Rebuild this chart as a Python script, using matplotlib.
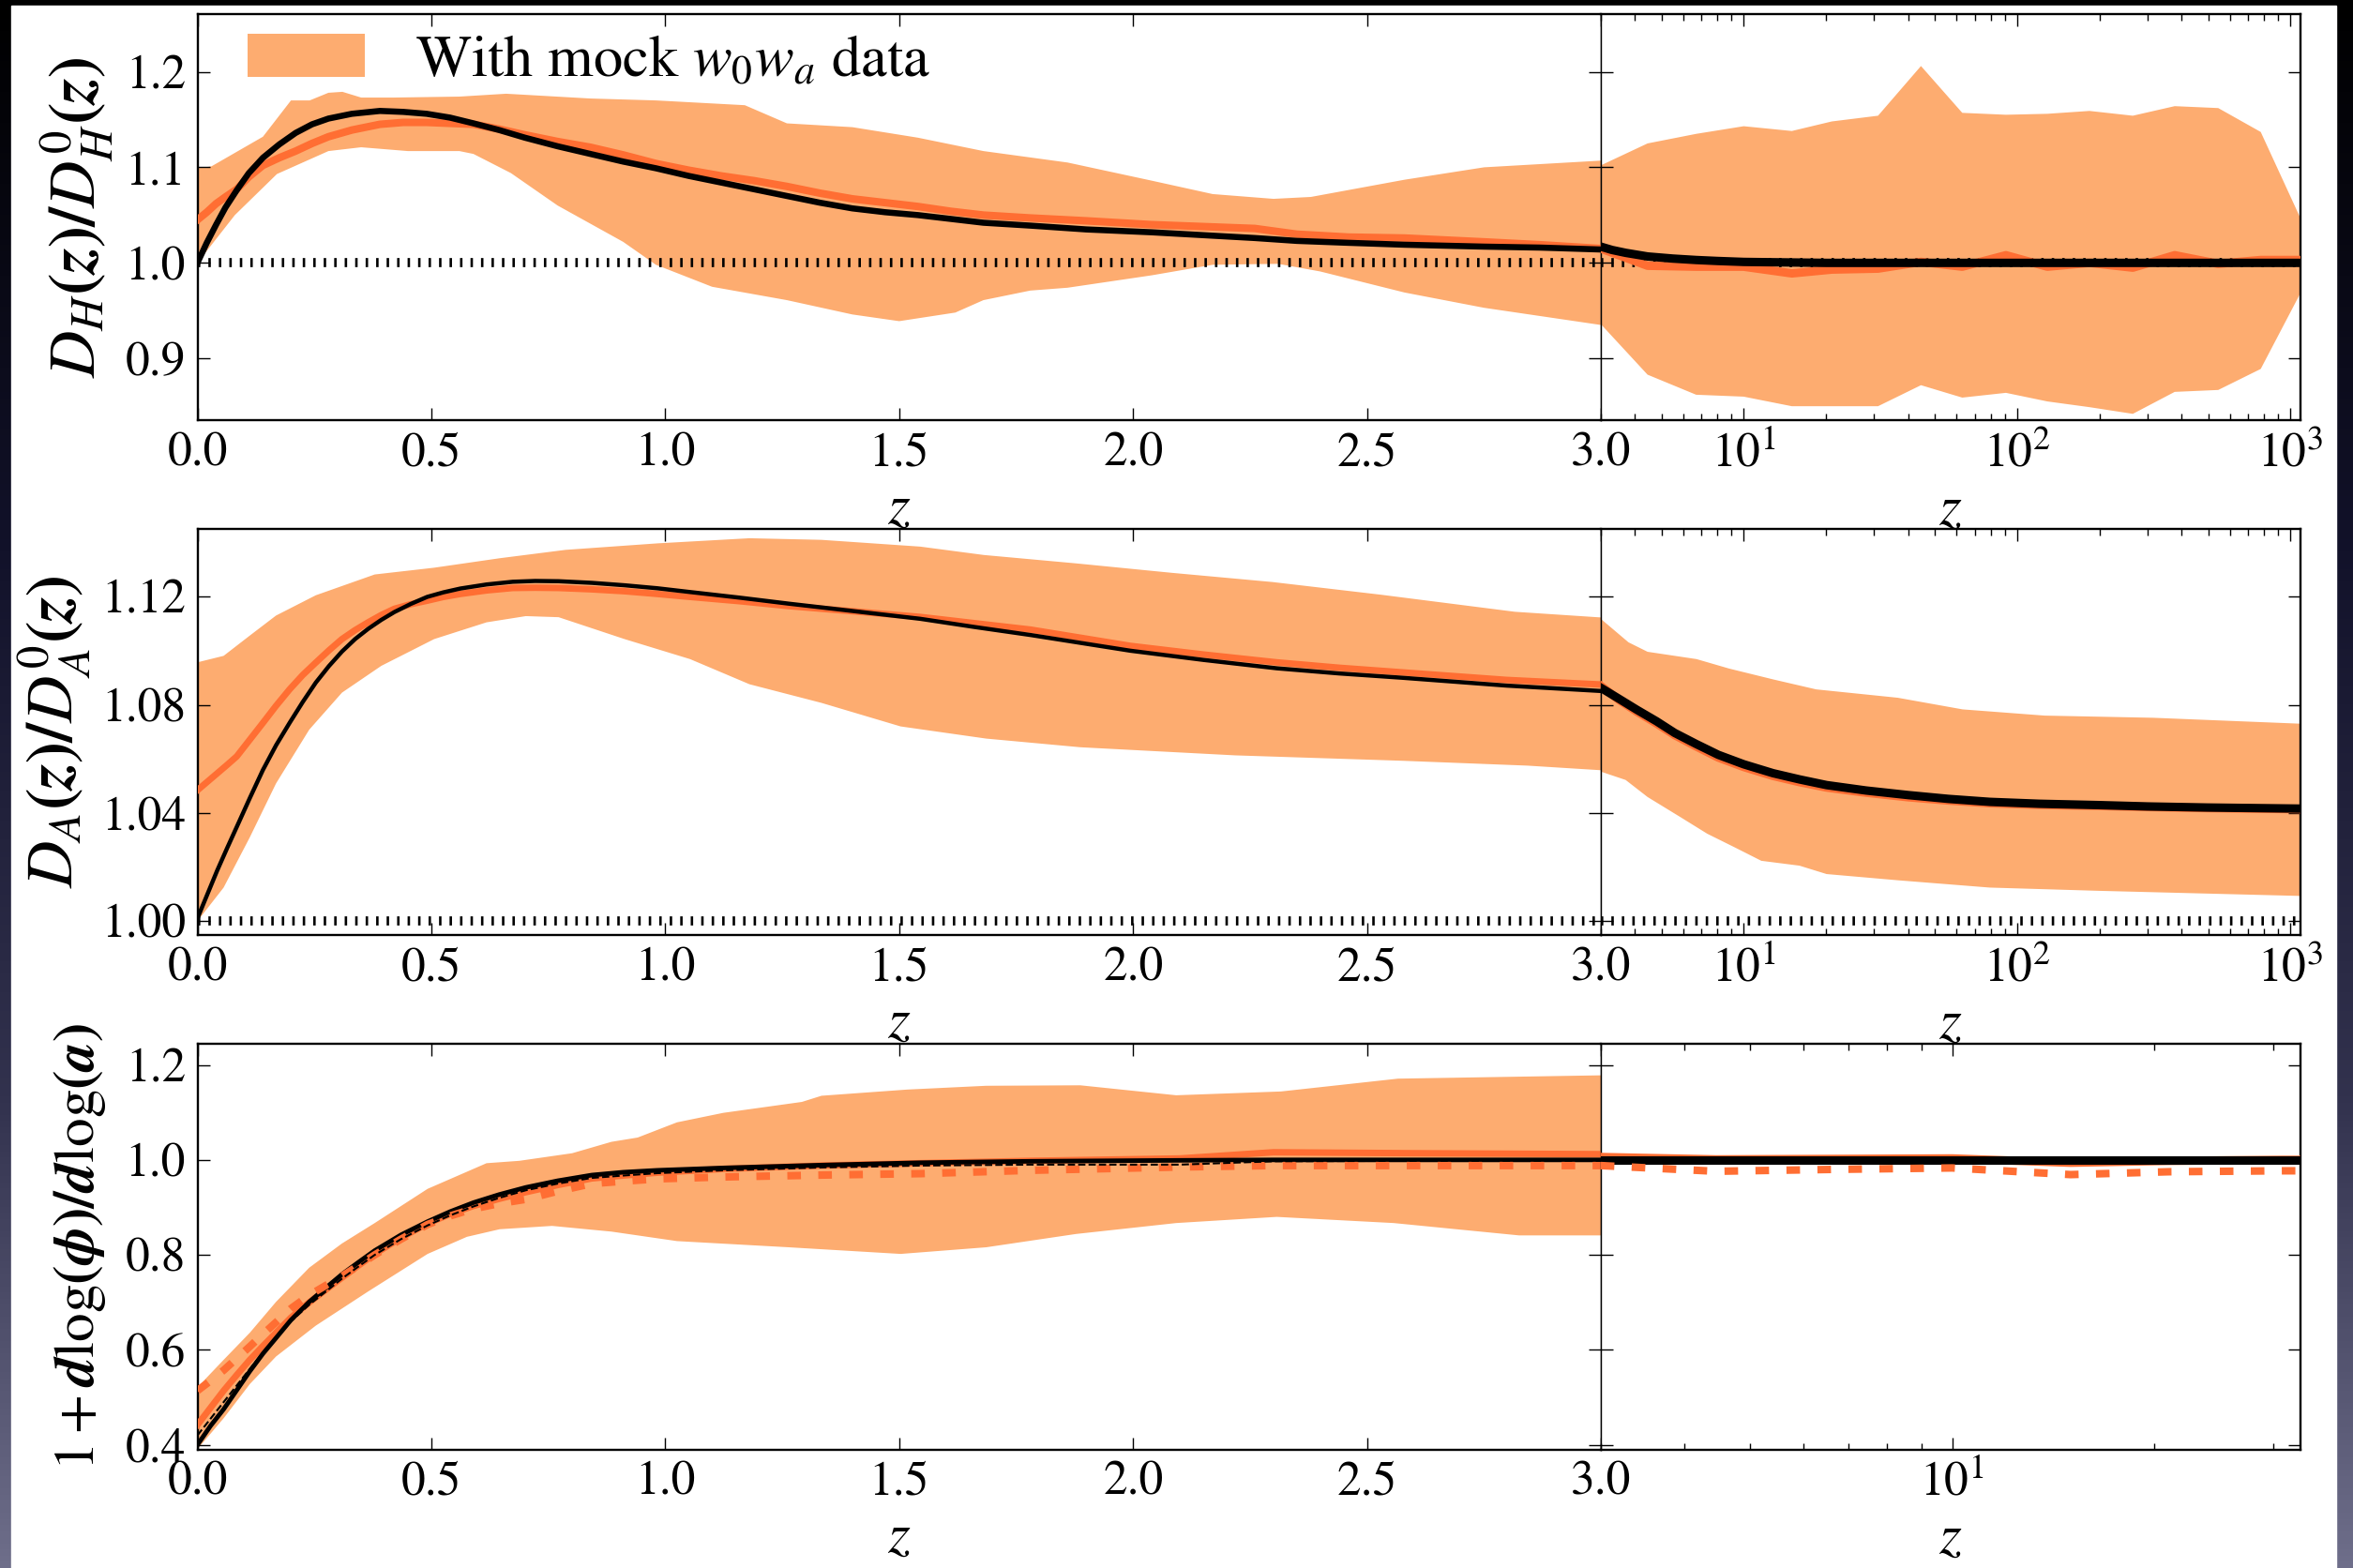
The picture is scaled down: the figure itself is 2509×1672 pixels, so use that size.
import numpy as np
import matplotlib.pyplot as plt
from matplotlib.colors import LinearSegmentedColormap
from matplotlib.patches import Rectangle
from matplotlib.ticker import NullFormatter, FormatStrFormatter

plt.rcParams['font.family'] = 'STIXGeneral'
plt.rcParams['mathtext.fontset'] = 'stix'

band_color = '#fdac70'
orange = '#ff6e33'
ref_level = 1.0

# ---------------- panel 1 : D_H(z)/D_H^0(z) ----------------
H_band_z_up = [0.0, 0.03, 0.14, 0.2, 0.24, 0.28, 0.31, 0.35, 0.42, 0.56, 0.66, 0.84, 0.98, 1.17, 1.26,
               1.4, 1.54, 1.68, 1.86, 2.04, 2.17, 2.3, 2.38, 2.58, 2.75, 3.0]
H_band_up = [1.099, 1.101, 1.132, 1.170, 1.170, 1.178, 1.179, 1.173, 1.173, 1.174, 1.177, 1.172, 1.170, 1.165, 1.146,
             1.142, 1.131, 1.117, 1.105, 1.086, 1.072, 1.067, 1.069, 1.087, 1.100, 1.107]
H_band_z_lo = [0.0, 0.08, 0.17, 0.28, 0.35, 0.45, 0.56, 0.59, 0.67, 0.77, 0.91, 0.98, 1.1, 1.26, 1.4,
               1.5, 1.62, 1.68, 1.78, 1.86, 2.04, 2.17, 2.31, 2.4, 2.58, 2.75, 3.0]
H_band_lo = [1.0, 1.05, 1.093, 1.117, 1.121, 1.117, 1.117, 1.114, 1.094, 1.060, 1.022, 0.998, 0.975, 0.961, 0.946,
             0.939, 0.948, 0.961, 0.971, 0.974, 0.987, 0.998, 0.999, 0.991, 0.969, 0.953, 0.935]
H_z = [0.0, 0.02, 0.04, 0.06, 0.084, 0.11, 0.14, 0.175, 0.21, 0.245, 0.28, 0.33, 0.39, 0.44, 0.49, 0.54, 0.59,
       0.645, 0.70, 0.77, 0.84, 0.91, 0.98, 1.05, 1.12, 1.19, 1.26, 1.33, 1.40, 1.47, 1.54, 1.61, 1.68, 1.78,
       1.9, 2.04, 2.15, 2.26, 2.35, 2.46, 2.58, 2.75, 2.87, 3.0]
H_black = [1.0, 1.021, 1.04, 1.058, 1.076, 1.094, 1.11, 1.124, 1.136, 1.145, 1.151, 1.156, 1.159, 1.158, 1.156,
           1.152, 1.146, 1.139, 1.131, 1.122, 1.114, 1.106, 1.099, 1.091, 1.084, 1.077, 1.070, 1.063, 1.057,
           1.053, 1.050, 1.046, 1.042, 1.039, 1.035, 1.032, 1.029, 1.026, 1.023, 1.021, 1.019, 1.017, 1.016, 1.014]
H_orange = [1.045, 1.053, 1.062, 1.069, 1.077, 1.090, 1.102, 1.110, 1.117, 1.125, 1.132, 1.139, 1.145, 1.147,
            1.147, 1.146, 1.145, 1.140, 1.134, 1.127, 1.121, 1.113, 1.104, 1.097, 1.091, 1.086, 1.080, 1.073,
            1.067, 1.063, 1.059, 1.054, 1.050, 1.047, 1.044, 1.040, 1.038, 1.036, 1.030, 1.027, 1.026, 1.022,
            1.019, 1.015]

# high-z part (log axis)
zr = [3, 4.45, 6.7, 10, 15, 21, 31, 44.5, 63, 91, 129, 184, 265, 377, 544, 778, 1090]
H_band_up_r = [1.102, 1.125, 1.135, 1.143, 1.138, 1.148, 1.154, 1.206, 1.157, 1.155, 1.156, 1.159, 1.154, 1.164,
               1.162, 1.137, 1.046]
H_band_lo_r = [0.936, 0.883, 0.862, 0.860, 0.850, 0.850, 0.850, 0.872, 0.859, 0.864, 0.855, 0.849, 0.842, 0.865,
               0.867, 0.889, 0.969]
H_orange_r = [1.015, 0.997, 0.996, 0.996, 0.989, 0.993, 0.994, 1.001, 0.996, 1.008, 0.996, 1.0, 0.995, 1.008,
              0.999, 1.003, 1.003]
H_z_black_r = [3, 3.3, 3.7, 4.45, 5.5, 6.7, 8, 10, 20, 100, 1090]
H_black_r = [1.017, 1.0135, 1.0105, 1.0067, 1.0045, 1.003, 1.002, 1.001, 1.0, 1.0, 1.0]

# ---------------- panel 2 : D_A(z)/D_A^0(z) ----------------
A_band_z_up = [0.0, 0.056, 0.112, 0.168, 0.253, 0.379, 0.506, 0.646, 0.787, 0.983,
               1.18, 1.334, 1.545, 1.681, 1.878, 2.083, 2.298, 2.53, 2.816, 3.0]
A_band_up = [1.0957, 1.0981, 1.1056, 1.113, 1.1205, 1.1282, 1.1307, 1.1342, 1.1373, 1.1397,
             1.1416, 1.141, 1.1385, 1.1354, 1.1323, 1.1288, 1.1254, 1.1207, 1.1144, 1.1123]
A_band_z_lo = [0.0, 0.056, 0.112, 0.168, 0.239, 0.309, 0.393, 0.506, 0.618, 0.702, 0.772,
               0.913, 1.053, 1.18, 1.334, 1.503, 1.686, 1.887, 2.218, 2.575, 2.843, 3.0]
A_band_lo = [1.0, 1.0124, 1.031, 1.0509, 1.0708, 1.0845, 1.0944, 1.1043, 1.1105, 1.1128, 1.1124,
             1.1043, 1.0969, 1.0876, 1.0807, 1.072, 1.0675, 1.0643, 1.0613, 1.0593, 1.0575, 1.0558]
A_z = [0.0, 0.021, 0.042, 0.063, 0.084, 0.112, 0.14, 0.168, 0.197, 0.225, 0.253, 0.281, 0.309, 0.337, 0.365,
       0.393, 0.421, 0.456, 0.491, 0.526, 0.562, 0.618, 0.674, 0.722, 0.772, 0.843, 0.913, 0.983, 1.053,
       1.16, 1.264, 1.40, 1.545, 1.66, 1.781, 1.994, 2.15, 2.307, 2.44, 2.575, 2.798, 3.0]
A_black = [1.001, 1.0098, 1.0186, 1.0268, 1.0348, 1.0455, 1.0559, 1.0650, 1.0733, 1.0810, 1.0882, 1.0943,
           1.0997, 1.1043, 1.1081, 1.1114, 1.1143, 1.1173, 1.1199, 1.1216, 1.123, 1.1245, 1.1255, 1.1258,
           1.1257, 1.1251, 1.1242, 1.1231, 1.1217, 1.1196, 1.1174, 1.1147, 1.1118, 1.1088, 1.1058, 1.1000,
           1.0966, 1.0935, 1.0916, 1.0900, 1.0871, 1.0851]
A_orange = [1.0484, 1.0515, 1.0546, 1.0577, 1.0609, 1.0671, 1.0733, 1.0796, 1.0857, 1.0910, 1.0956, 1.1001,
            1.1043, 1.1076, 1.1105, 1.1132, 1.1155, 1.1172, 1.1185, 1.1199, 1.121, 1.1223, 1.1232, 1.1233,
            1.1232, 1.1227, 1.122, 1.1210, 1.1199, 1.1183, 1.1165, 1.1146, 1.1125, 1.1102, 1.1078, 1.1018,
            1.0986, 1.0957, 1.0937, 1.0920, 1.0892, 1.0875]

A_band_z_up_r = [3, 3.79, 4.45, 6.72, 8.84, 12.8, 18.4, 36.6, 63.2, 126, 314, 1090]
A_band_up_r = [1.1118, 1.1031, 1.0996, 1.0969, 1.0934, 1.0894, 1.0857, 1.0826, 1.0783, 1.076, 1.0752, 1.073]
A_band_z_lo_r = [3, 3.7, 4.45, 5.86, 7.36, 9.26, 11.6, 16.0, 20.1, 36.6, 79.4, 199, 1090]
A_band_lo_r = [1.0553, 1.0522, 1.0459, 1.0385, 1.0323, 1.0273, 1.0223, 1.0205, 1.0174, 1.0151, 1.0124,
               1.0112, 1.0093]
A_z_r = [3, 3.5, 4.06, 4.8, 5.59, 6.7, 8.07, 10, 12.8, 16, 20.1, 28, 40, 56, 79.4, 120, 199, 300, 497, 1090]
A_black_r = [1.0863, 1.0822, 1.0782, 1.0739, 1.0696, 1.0655, 1.0615, 1.0580, 1.0547, 1.0524, 1.0503, 1.0483,
             1.0466, 1.0452, 1.0441, 1.0434, 1.0429, 1.0424, 1.042, 1.0416]
A_orange_r = [1.087, 1.0818, 1.0775, 1.0731, 1.0688, 1.0646, 1.0605, 1.0570, 1.0537, 1.0514, 1.0494, 1.0475,
              1.0458, 1.0446, 1.0436, 1.0430, 1.0426, 1.0422, 1.0418, 1.0414]

# ---------------- panel 3 : 1 + dlog(phi)/dlog(a) ----------------
P_band_z_up = [0.0, 0.056, 0.112, 0.168, 0.239, 0.309, 0.379, 0.492, 0.618, 0.688, 0.801, 0.885,
               0.941, 1.025, 1.124, 1.292, 1.334, 1.517, 1.686, 1.887, 2.092, 2.316, 2.566, 3.0]
P_band_up = [0.521, 0.579, 0.636, 0.701, 0.773, 0.824, 0.867, 0.939, 0.993, 0.998, 1.014, 1.038,
             1.047, 1.079, 1.099, 1.122, 1.135, 1.148, 1.156, 1.157, 1.136, 1.144, 1.171, 1.178]
P_band_z_lo = [0.0, 0.056, 0.112, 0.168, 0.253, 0.365, 0.492, 0.576, 0.646, 0.758, 0.885,
               1.025, 1.264, 1.503, 1.686, 1.878, 2.092, 2.307, 2.557, 2.825, 3.0]
P_band_lo = [0.391, 0.456, 0.528, 0.586, 0.651, 0.723, 0.802, 0.838, 0.854, 0.861, 0.849,
             0.829, 0.816, 0.802, 0.816, 0.844, 0.867, 0.880, 0.867, 0.841, 0.841]
P_z = [0.0, 0.028, 0.056, 0.084, 0.112, 0.14, 0.168, 0.2, 0.239, 0.275, 0.309, 0.345, 0.379, 0.435, 0.492,
       0.54, 0.59, 0.645, 0.702, 0.77, 0.843, 0.91, 0.983, 1.124, 1.334, 1.545, 1.781, 2.1, 2.3, 2.6, 3.0]
P_black = [0.40, 0.44, 0.475, 0.515, 0.555, 0.592, 0.625, 0.663, 0.701, 0.731, 0.759, 0.785, 0.809, 0.842,
           0.870, 0.891, 0.910, 0.927, 0.942, 0.956, 0.968, 0.974, 0.978, 0.983, 0.989, 0.994, 0.997, 0.999,
           1.0, 1.0, 1.0]
P_black_dash = [0.42, 0.455, 0.49, 0.525, 0.56, 0.593, 0.625, 0.66, 0.695, 0.723, 0.75, 0.776, 0.80, 0.833,
                0.862, 0.883, 0.902, 0.920, 0.936, 0.950, 0.962, 0.967, 0.972, 0.978, 0.984, 0.988, 0.990,
                0.990, 0.997, 0.998, 0.998]
P_orange = [0.442, 0.478, 0.514, 0.547, 0.579, 0.608, 0.636, 0.668, 0.700, 0.727, 0.752, 0.778, 0.802, 0.836,
            0.866, 0.886, 0.903, 0.918, 0.932, 0.947, 0.961, 0.967, 0.973, 0.981, 0.988, 0.993, 0.998, 1.003,
            1.016, 1.014, 1.012]
P_orange_dash = [0.514, 0.535, 0.557, 0.582, 0.607, 0.633, 0.658, 0.687, 0.715, 0.736, 0.755, 0.778, 0.80,
                 0.833, 0.864, 0.882, 0.897, 0.908, 0.917, 0.934, 0.950, 0.955, 0.960, 0.964, 0.968, 0.971,
                 0.978, 0.985, 0.988, 0.988, 0.988]

P_z_r = [3, 4.45, 6.7, 10, 15, 21, 31, 44.5]
P_black_r = [1.0, 1.0, 1.0, 1.0, 1.0, 1.0, 1.0, 1.0]
P_orange_r = [1.006, 1.001, 1.002, 1.003, 0.994, 0.998, 1.0, 1.0]
P_orange_dash_r = [0.988, 0.976, 0.980, 0.983, 0.969, 0.975, 0.977, 0.977]


fs = 37
lab_fs = 50
dotted = (0, (0.27, 0.88))
odash = (0, (1.8, 2.3))

fig = plt.figure(figsize=(25.09, 16.72), dpi=100)

# slide background: dark gradient frame with a white sheet on it
bg = fig.add_axes([0, 0, 1, 1], zorder=-10)
grad = np.linspace(0, 1, 256).reshape(-1, 1)
cmap = LinearSegmentedColormap.from_list('slide', [(0, '#000000'), (0.35, '#12122a'),
                                                   (0.7, '#32324e'), (1, '#6e6e8a')])
bg.imshow(grad, aspect='auto', cmap=cmap, extent=[0, 1, 0, 1])
bg.add_patch(Rectangle((12 / 2509, 0), 2479 / 2509, 1666 / 1672, color='white'))
bg.set_xlim(0, 1)
bg.set_ylim(0, 1)
bg.axis('off')

xl, wl = 0.0839, 0.5965
xr, wr = 0.6803, 0.2975
h = 0.259
rows = [0.7318, 0.4036, 0.0755]

ax1l = fig.add_axes([xl, rows[0], wl, h])
ax1r = fig.add_axes([xr, rows[0], wr, h])
ax2l = fig.add_axes([xl, rows[1], wl, h])
ax2r = fig.add_axes([xr, rows[1], wr, h])
ax3l = fig.add_axes([xl, rows[2], wl, h])
ax3r = fig.add_axes([xr, rows[2], wr, h])


def style(axl, axr, ylim, yticks, yfmt, xmax_r):
    for ax in (axl, axr):
        ax.set_ylim(*ylim)
        ax.set_yticks(yticks)
        ax.tick_params(which='both', direction='in', top=True, bottom=True, left=True, right=True)
        ax.tick_params(which='major', length=9.5, width=1.0, labelsize=fs, pad=9)
        ax.tick_params(which='minor', length=5, width=1.0)
        for sp in ax.spines.values():
            sp.set_linewidth(1.7)
        ax.set_xlabel(r'$z$', fontsize=44, labelpad=6)
    axl.yaxis.set_major_formatter(FormatStrFormatter(yfmt))
    axl.set_xlim(0, 3)
    axl.set_xticks([0, 0.5, 1, 1.5, 2, 2.5, 3])
    axl.xaxis.set_major_formatter(FormatStrFormatter('%.1f'))
    axr.set_xscale('log')
    axr.set_xlim(3, xmax_r)
    axr.xaxis.set_minor_formatter(NullFormatter())
    axr.tick_params(labelleft=False)
    axl.spines['right'].set_linewidth(1.0)
    axr.spines['left'].set_linewidth(1.0)


# panel 1
ax1l.fill(np.concatenate([H_band_z_up, H_band_z_lo[::-1]]), np.concatenate([H_band_up, H_band_lo[::-1]]),
          color=band_color, lw=0, zorder=1, label=r'With mock $w_0w_a$ data')
ax1l.axhline(ref_level, color='k', lw=7, ls=dotted, zorder=2)
ax1l.plot(H_z, H_orange, color=orange, lw=5.8, zorder=3)
ax1l.plot(H_z, H_black, color='k', lw=4.7, zorder=4)

ax1r.fill(np.concatenate([zr, zr[::-1]]), np.concatenate([H_band_up_r, H_band_lo_r[::-1]]),
          color=band_color, lw=0, zorder=1)
ax1r.axhline(ref_level, color='k', lw=7, ls=dotted, zorder=2)
ax1r.plot(zr, H_orange_r, color=orange, lw=6.5, zorder=3)
ax1r.plot(H_z_black_r, H_black_r, color='k', lw=6.5, zorder=4)

style(ax1l, ax1r, (0.835, 1.26), [0.9, 1.0, 1.1, 1.2], '%.1f', 1090)
ax1l.set_ylabel(r'$\boldsymbol{D_H(z)/D^0_H(z)}$', fontsize=lab_fs)
ax1l.yaxis.set_label_coords(-0.059, 0.5)
ax1l.legend(loc='upper left', bbox_to_anchor=(0.011, 1.038), fontsize=45, frameon=False,
            handlelength=2.0, handleheight=0.75, handletextpad=0.85, borderaxespad=0.2)

# panel 2
ax2l.fill(np.concatenate([A_band_z_up, A_band_z_lo[::-1]]), np.concatenate([A_band_up, A_band_lo[::-1]]),
          color=band_color, lw=0, zorder=1)
ax2l.axhline(ref_level, color='k', lw=7, ls=dotted, zorder=2)
ax2l.plot(A_z, A_orange, color=orange, lw=5.0, zorder=3)
ax2l.plot(A_z, A_black, color='k', lw=3.2, zorder=4)

ax2r.fill(np.concatenate([A_band_z_up_r, A_band_z_lo_r[::-1]]), np.concatenate([A_band_up_r, A_band_lo_r[::-1]]),
          color=band_color, lw=0, zorder=1)
ax2r.axhline(ref_level, color='k', lw=7, ls=dotted, zorder=2)
ax2r.plot(A_z_r, A_orange_r, color=orange, lw=6.5, zorder=3)
ax2r.plot(A_z_r, A_black_r, color='k', lw=6.5, zorder=4)

style(ax2l, ax2r, (0.9948, 1.145), [1.00, 1.04, 1.08, 1.12], '%.2f', 1090)
ax2l.set_ylabel(r'$\boldsymbol{D_A(z)/D^0_A(z)}$', fontsize=lab_fs)
ax2l.yaxis.set_label_coords(-0.075, 0.5)

# panel 3
ax3l.fill(np.concatenate([P_band_z_up, P_band_z_lo[::-1]]), np.concatenate([P_band_up, P_band_lo[::-1]]),
          color=band_color, lw=0, zorder=1)
ax3l.plot(P_z, P_orange, color=orange, lw=5.0, zorder=3)
ax3l.plot(P_z, P_black, color='k', lw=3.5, zorder=4)
ax3l.plot(P_z, P_orange_dash, color=orange, lw=5.8, ls=odash, zorder=5)
ax3l.plot(P_z, P_black_dash, color='k', lw=1.5, ls='--', zorder=6)

ax3r.plot(P_z_r, P_orange_r, color=orange, lw=6.5, zorder=3)
ax3r.plot(P_z_r, P_black_r, color='k', lw=6.5, zorder=4)
ax3r.plot(P_z_r, P_orange_dash_r, color=orange, lw=5.8, ls=odash, zorder=5)

style(ax3l, ax3r, (0.39, 1.245), [0.4, 0.6, 0.8, 1.0, 1.2], '%.1f', 33)
ax3l.set_ylabel(r'$1+\boldsymbol{d\log(\phi)/d\log(a)}$', fontsize=44)
ax3l.yaxis.set_label_coords(-0.064, 0.5)

plt.savefig('out.png', dpi=100)
